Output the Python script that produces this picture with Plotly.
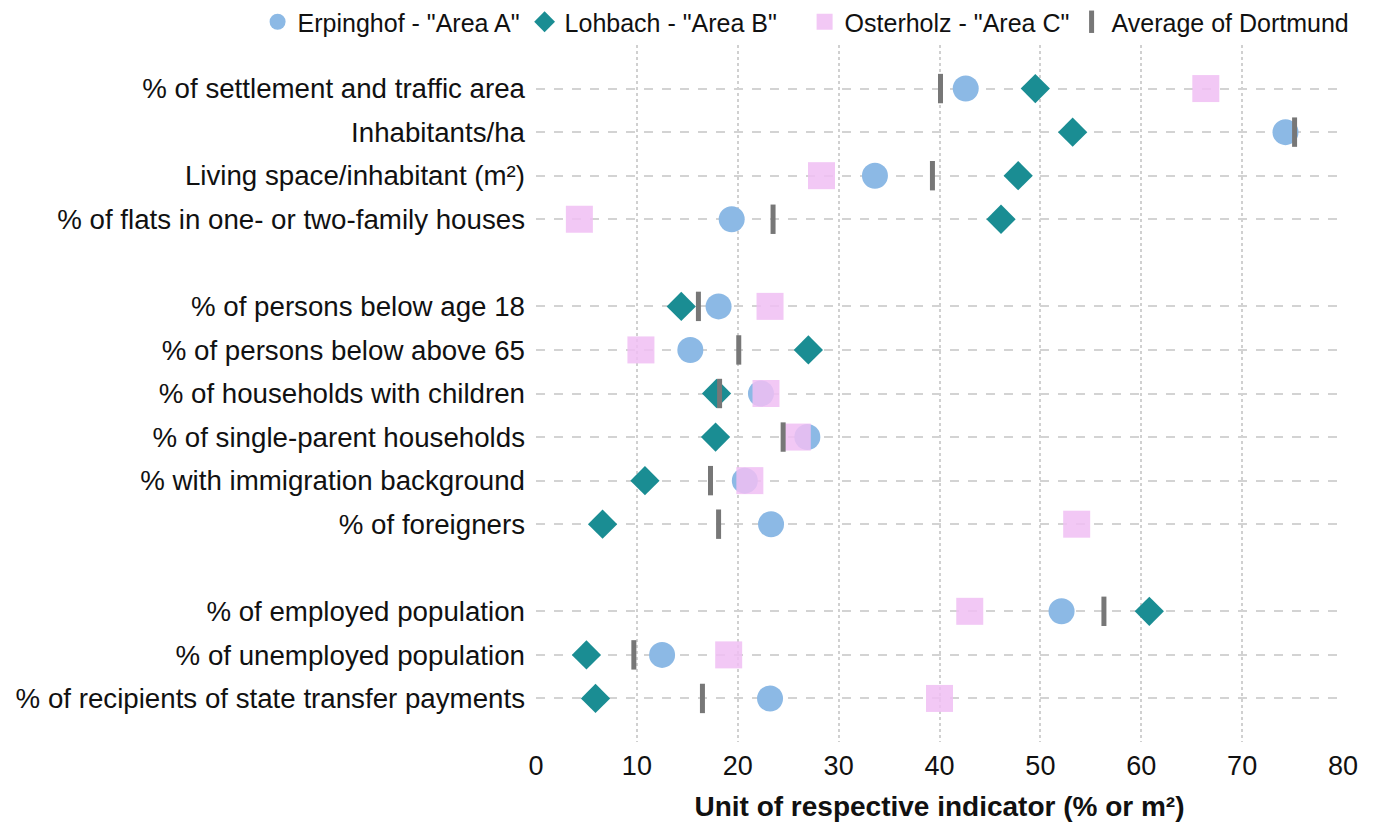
import plotly.graph_objects as go

# Indicator groups (blank row between groups)
groups = [
    ["% of settlement and traffic area", "Inhabitants/ha",
     "Living space/inhabitant (m²)", "% of flats in one- or two-family houses"],
    ["% of persons below age 18", "% of persons below above 65",
     "% of households with children", "% of single-parent households",
     "% with immigration background", "% of foreigners"],
    ["% of employed population", "% of unemployed population",
     "% of recipients of state transfer payments"],
]

erpinghof = [42.6, 74.3, 33.6, 19.4, 18.1, 15.3, 22.3, 26.9, 20.7, 23.3, 52.1, 12.5, 23.2]
lohbach   = [49.5, 53.2, 47.8, 46.1, 14.4, 27.0, 17.9, 17.8, 10.8, 6.6, 60.8, 5.0, 5.9]
osterholz = [66.4, None, 28.3, 4.3, 23.2, 10.4, 22.8, 25.9, 21.2, 53.6, 43.0, 19.1, 40.0]
dortmund  = [40.1, 75.2, 39.3, 23.5, 16.1, 20.1, 18.2, 24.5, 17.3, 18.1, 56.3, 9.7, 16.5]

# build row slots from the groups
labels, slots = [], []
pos = 0
for g in groups:
    for lab in g:
        labels.append(lab)
        slots.append(pos)
        pos += 1
    pos += 1

font = "Liberation Sans, Arial, sans-serif"
fig = go.Figure()
fig.add_trace(go.Scatter(
    x=erpinghof, y=slots, mode="markers", name='Erpinghof - "Area A"',
    marker=dict(symbol="circle", size=26, color="#8CB9E5", line=dict(width=0)),
    legendwidth=222, cliponaxis=False))
fig.add_trace(go.Scatter(
    x=lohbach, y=slots, mode="markers", name='Lohbach - "Area B"',
    marker=dict(symbol="diamond", size=22.5, color="#1A8D93", line=dict(width=0)),
    legendwidth=235, cliponaxis=False))
fig.add_trace(go.Scatter(
    x=osterholz, y=slots, mode="markers", name='Osterholz - "Area C"',
    marker=dict(symbol="square", size=27, color="rgba(240,190,243,0.85)", line=dict(width=0)),
    legendwidth=222, cliponaxis=False))
fig.add_trace(go.Scatter(
    x=dortmund, y=slots, mode="markers", name="Average of Dortmund",
    marker=dict(symbol="line-ns", size=21, color="#777777",
                line=dict(width=5, color="#777777")),
    cliponaxis=False))

fig.update_layout(
    width=1376, height=822,
    margin=dict(l=536, r=33, t=45, b=80, autoexpand=False),
    paper_bgcolor="white", plot_bgcolor="white",
    font=dict(family=font, size=26, color="#111111"),
    legend=dict(orientation="h", x=-0.345, xanchor="left", y=1.0, yanchor="bottom",
                font=dict(size=25), itemsizing="trace", tracegroupgap=0,
                itemwidth=30, bgcolor="rgba(0,0,0,0)"),
    showlegend=True,
)
fig.update_xaxes(
    range=[0, 80], dtick=10, tick0=0,
    showgrid=True, gridcolor="#D0D0D0", griddash="dot", gridwidth=2,
    zeroline=False, showline=False, ticks="", ticklabelstandoff=5,
    tickfont=dict(size=27),
    title=dict(text="<b>Unit of respective indicator (% or m²)</b>",
               font=dict(size=28), standoff=16),
)
fig.update_yaxes(
    range=[pos - 1, -1], tickmode="array", tickvals=slots, ticktext=labels,
    showgrid=True, gridcolor="#D3D3D3", griddash="dash", gridwidth=2,
    zeroline=False, showline=False, ticks="", ticklabelstandoff=10,
    tickfont=dict(size=27.7),
)

fig.write_html("out.html", config={"displayModeBar": False},
               post_script="document.body.style.margin='0';document.body.style.padding='0';")
